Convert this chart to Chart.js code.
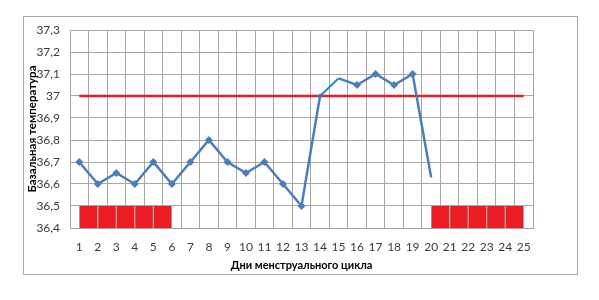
<!DOCTYPE html>
<html>
<head>
<meta charset="utf-8">
<script src="https://cdn.jsdelivr.net/npm/chart.js@4"></script>
<style>
  html, body { margin: 0; padding: 0; background: #fff; }
  #wrap { width: 599px; height: 300px; position: relative; }
</style>
</head>
<body>
<div id="wrap"><canvas id="chartBbt" width="599" height="300"></canvas></div>
<script>
// day numbers on the x axis and measured temperatures
const days = [1, 2, 3, 4, 5, 6, 7, 8, 9, 10, 11, 12, 13, 14, 15, 16, 17, 18, 19, 20, 21, 22, 23, 24, 25];
const temps = [36.7, 36.6, 36.65, 36.6, 36.7, 36.6, 36.7, 36.8, 36.7, 36.65, 36.7, 36.6, 36.5,
               37.0, 37.08, 37.05, 37.1, 37.05, 37.1, 36.63];
const coverLine = 37.0;
const coverFrom = 1, coverTo = 25;
// days that start a red "menses" block (block spans day .. day+1)
const mensesDays = [1, 2, 3, 4, 5, 20, 21, 22, 23, 24];
const mensesTop = 36.5;
const yMin = 36.4, yMax = 37.3;

const BLUE = "#4a7ebb";
const RED = "#ed1c24";
const GRID = "#a6a6a6";
const TXT = "#3a3a4a";

const frame = {
    id: "frame",
    beforeDraw(chart) {
        const ctx = chart.ctx;
        ctx.save();
        ctx.strokeStyle = "#a8a8a8";
        ctx.lineWidth = 1;
        ctx.strokeRect(23.5, 16.5, 554, 258);
        ctx.restore();
    },
};

const fmt = v => String(Math.round(v * 10) / 10).replace(".", ",");

new Chart(document.getElementById("chartBbt"), {
    type: "line",
    data: {
        datasets: [
            {
                label: "Температура",
                data: temps.map((t, i) => ({ x: days[i], y: t })),
                borderColor: BLUE,
                backgroundColor: BLUE,
                borderWidth: 2.5,
                pointStyle: "rectRot",
                pointRadius: ctx => (ctx.dataIndex === 14 || ctx.dataIndex === 19 ? 0 : ctx.dataIndex === 13 ? 2.5 : 4),
                pointBackgroundColor: ctx => (ctx.dataIndex === 13 ? "#1487c9" : BLUE),
                pointBorderWidth: 0,
                segment: {
                    borderColor: c => (c.p0DataIndex === 13 ? "#1487c9" : undefined),
                    borderWidth: c => (c.p0DataIndex === 13 ? 2 : undefined),
                },
                tension: 0,
                order: 0,
            },
            {
                label: "37",
                data: [{ x: coverFrom, y: coverLine }, { x: coverTo, y: coverLine }],
                borderColor: RED,
                borderWidth: 2.5,
                pointRadius: 0,
                order: 1,
            },
            {
                type: "bar",
                label: "Менструация",
                data: mensesDays.map(d => ({ x: d + 0.5, y: [yMin, mensesTop] })),
                backgroundColor: RED,
                borderColor: GRID,
                borderWidth: { left: 1, right: 1, top: 0, bottom: 0 },
                borderSkipped: false,
                barPercentage: 1,
                categoryPercentage: 1,
                grouped: false,
                order: 2,
            },
        ],
    },
    options: {
        responsive: false,
        animation: false,
        layout: { padding: { left: 14, right: 66, top: 30, bottom: 26 } },
        scales: {
            x: {
                type: "linear",
                min: 1,
                max: 25,
                afterFit: s => { s.height = 46; },
                ticks: { stepSize: 1, color: TXT, padding: 12, font: { family: "Lato", size: 12 }, maxRotation: 0 },
                grid: { color: GRID, drawTicks: false },
                border: { color: GRID },
                title: {
                    display: true,
                    text: "Дни менструального цикла",
                    color: "#000",
                    font: { family: "Lato", size: 11, weight: "bold" },
                    padding: { top: 4, bottom: 2 },
                },
            },
            y: {
                min: yMin,
                max: yMax,
                afterFit: s => { s.width = 56; },
                ticks: { stepSize: 0.1, color: TXT, padding: 10, callback: fmt, font: { family: "Lato", size: 12 } },
                grid: { color: GRID, drawTicks: false },
                border: { color: GRID },
                title: {
                    display: true,
                    text: "Базальная температура",
                    color: "#000",
                    font: { family: "Lato", size: 11.5, weight: "bold" },
                    padding: { top: 11, bottom: 0 },
                },
            },
        },
        plugins: {
            legend: { display: false },
            tooltip: { enabled: false },
        },
    },
    plugins: [frame],
});
</script>
</body>
</html>
